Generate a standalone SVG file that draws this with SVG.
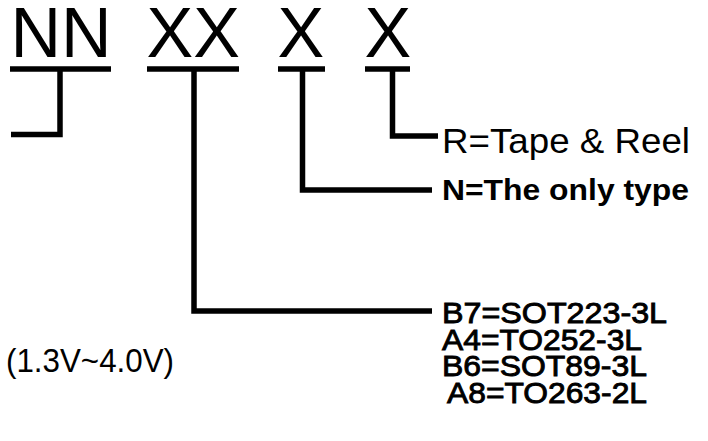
<svg xmlns="http://www.w3.org/2000/svg" width="708" height="441" viewBox="0 0 708 441">
<style>
.big{font-family:"Liberation Sans",Arial,sans-serif;font-size:70px;fill:#000}
.lab{font-family:"Liberation Sans",Arial,sans-serif;fill:#000}
.pkg{font-family:"Liberation Sans",Arial,sans-serif;font-size:30px;fill:#000;stroke:#000;stroke-width:0.9}
.bar{stroke:#000;stroke-width:5.5;fill:none}
.con{stroke:#000;stroke-width:5.5;fill:none;stroke-linejoin:miter;stroke-linecap:butt}
</style>
<rect width="708" height="441" fill="#fff"/>
<g id="seg-nn">
<text class="big" x="10.5" y="57">NN</text>
<line class="bar" x1="10" y1="69" x2="111" y2="69"/>
</g>
<g id="seg-xx">
<text class="big" x="146.5" y="57">XX</text>
<line class="bar" x1="147" y1="69" x2="239" y2="69"/>
</g>
<g id="seg-x1">
<text class="big" x="277.5" y="57">X</text>
<line class="bar" x1="278" y1="69" x2="325" y2="69"/>
</g>
<g id="seg-x2">
<text class="big" x="364.5" y="57">X</text>
<line class="bar" x1="365" y1="69" x2="410" y2="69"/>
</g>
<g id="lbl-r">
<text class="lab" x="442" y="153" font-size="35" textLength="248" lengthAdjust="spacingAndGlyphs">R=Tape &amp; Reel</text>
</g>
<g id="lbl-n">
<text class="lab" x="442" y="200" font-size="29" font-weight="bold" textLength="247" lengthAdjust="spacingAndGlyphs">N=The only type</text>
</g>
<g id="lbl-pkg">
<text class="pkg" x="442" y="323" textLength="225" lengthAdjust="spacingAndGlyphs">B7=SOT223-3L</text>
<text class="pkg" x="442" y="349.5" textLength="200" lengthAdjust="spacingAndGlyphs">A4=TO252-3L</text>
<text class="pkg" x="442" y="376" textLength="205" lengthAdjust="spacingAndGlyphs">B6=SOT89-3L</text>
<text class="pkg" x="447" y="403" textLength="200" lengthAdjust="spacingAndGlyphs">A8=TO263-2L</text>
</g>
<g id="lbl-v">
<text class="lab" x="6" y="372" font-size="33" textLength="168" lengthAdjust="spacingAndGlyphs">(1.3V~4.0V)</text>
</g>
<g id="connectors">
<polyline class="con" points="60,71 60,134.5 11,134.5"/>
<polyline class="con" points="194,71 194,311 432,311"/>
<polyline class="con" points="302.5,71 302.5,190 432,190"/>
<polyline class="con" points="392.5,71 392.5,136 438,136"/>
</g>
</svg>
